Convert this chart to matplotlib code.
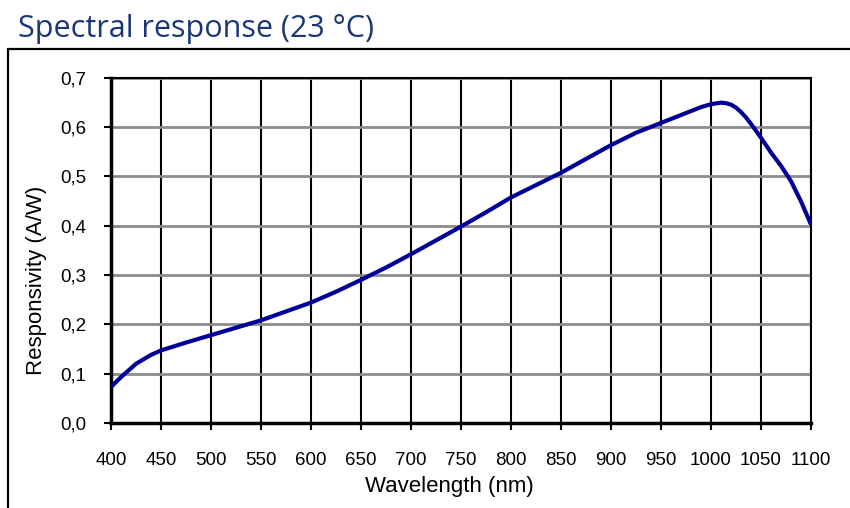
import matplotlib.pyplot as plt
import matplotlib.patches as patches
import numpy as np

# Responsivity curve (wavelength in nm, responsivity in A/W)
wavelength = [400, 410, 425, 440, 450, 475, 500, 525, 550, 575, 600, 625, 650, 675,
              700, 725, 750, 775, 800, 825, 850, 875, 900, 925, 950, 975, 990, 1000,
              1010, 1015, 1020, 1025, 1030, 1035, 1040, 1045, 1050, 1060, 1070,
              1080, 1090, 1100]
responsivity = [0.073, 0.093, 0.120, 0.138, 0.147, 0.163, 0.178, 0.193, 0.208, 0.226,
                0.244, 0.266, 0.290, 0.315, 0.342, 0.370, 0.398, 0.427, 0.457, 0.482,
                0.507, 0.535, 0.563, 0.588, 0.608, 0.628, 0.640, 0.646, 0.649, 0.648,
                0.645, 0.639, 0.630, 0.619, 0.606, 0.592, 0.578, 0.548, 0.521,
                0.490, 0.449, 0.402]

x_ticks = list(range(400, 1101, 50))
y_ticks = [0.0, 0.1, 0.2, 0.3, 0.4, 0.5, 0.6, 0.7]
y_tick_labels = ['0,0', '0,1', '0,2', '0,3', '0,4', '0,5', '0,6', '0,7']

plt.rcParams['font.family'] = ['Liberation Sans', 'DejaVu Sans']

fig = plt.figure(figsize=(8.5, 5.08), dpi=100)

# Outer frame around the chart
frame = patches.Rectangle((8 / 850, -0.1), 1.2, 1 - 49 / 508 + 0.1,
                          transform=fig.transFigure, fill=False,
                          edgecolor='black', linewidth=1.6)
fig.patches.append(frame)

fig.text(18 / 850, 1 - 37 / 508, 'Spectral response (23 °C)',
         fontsize=22, color='#1b3675', family='Open Sans', va='baseline')

ax = fig.add_axes([111 / 850, 1 - 423 / 508, 700 / 850, (423 - 77.5) / 508])
ax.plot(wavelength, responsivity, color='#000099', linewidth=3.0,
        solid_capstyle='butt', zorder=3)

ax.set_xlim(400, 1100)
ax.set_ylim(0, 0.7)
ax.set_xticks(x_ticks)
ax.set_yticks(y_ticks)
ax.set_yticklabels(y_tick_labels)

ax.grid(axis='x', color='black', linewidth=1.5)
ax.grid(axis='y', color='#8c8c8c', linewidth=2.0)
ax.set_axisbelow(True)

for side in ['top', 'right']:
    ax.spines[side].set_linewidth(1.5)
for side in ['left', 'bottom']:
    ax.spines[side].set_linewidth(2.5)

ax.tick_params(axis='both', direction='out', length=5, width=1.5,
               labelsize=13.5, colors='black')
ax.tick_params(axis='x', pad=16)
ax.tick_params(axis='y', pad=13)

ax.set_xlabel('Wavelength (nm)', fontsize=16, va='center', ha='center')
ax.xaxis.set_label_coords(0.483, -0.185)
ax.set_ylabel('Responsivity (A/W)', fontsize=16, va='center', ha='center')
ax.yaxis.set_label_coords(-0.106, 0.414)

fig.savefig('out.png', dpi=100)
